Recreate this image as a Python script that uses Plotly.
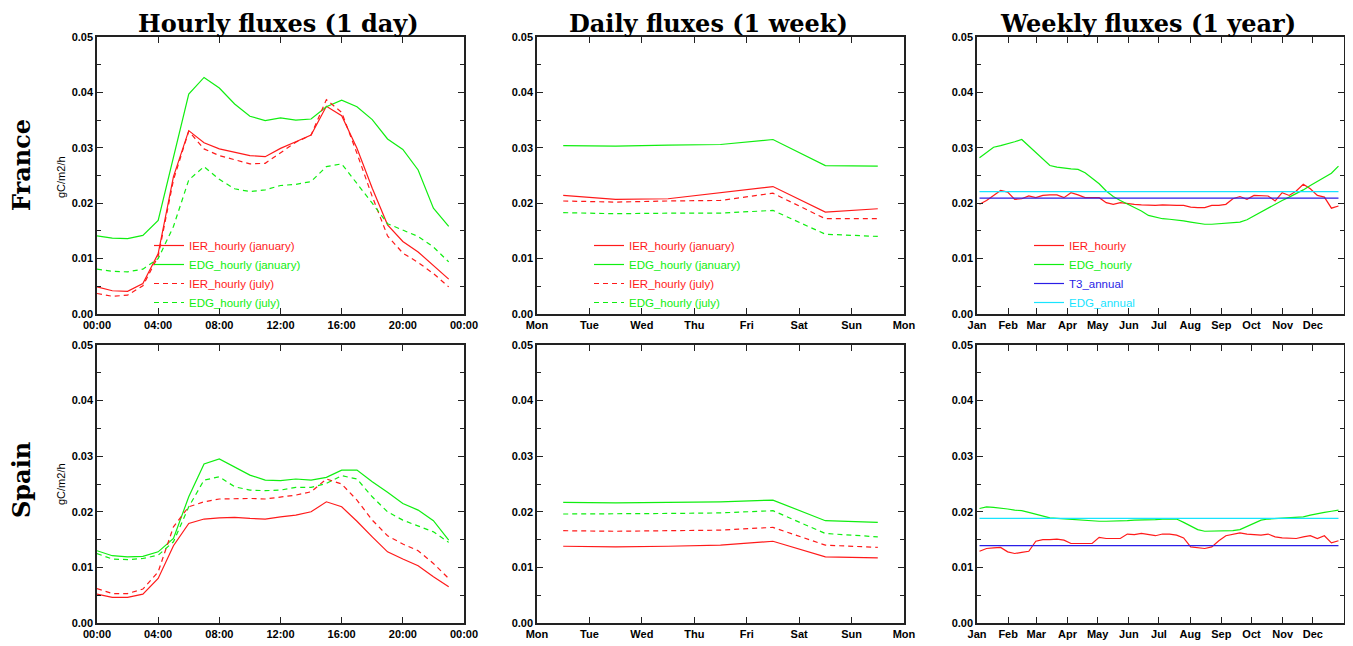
import plotly.graph_objects as go

# ---------------- data ----------------
hours = list(range(24))
hour_ticks = [0, 4, 8, 12, 16, 20, 24]
hour_labels = ["00:00", "04:00", "08:00", "12:00", "16:00", "20:00", "00:00"]

days = ["Mon", "Tue", "Wed", "Thu", "Fri", "Sat", "Sun"]
day_labels = ["Mon", "Tue", "Wed", "Thu", "Fri", "Sat", "Sun", "Mon"]

months = ["Jan", "Feb", "Mar", "Apr", "May", "Jun", "Jul", "Aug", "Sep", "Oct", "Nov", "Dec"]
month_start_day = [0, 31, 59, 90, 120, 151, 181, 212, 243, 273, 304, 334]
weeks = list(range(52))

y_ticks = [0, 0.01, 0.02, 0.03, 0.04, 0.05]
y_labels = ["0.00", "0.01", "0.02", "0.03", "0.04", "0.05"]

# France hourly
fr_h_ier_jan = [0.0049, 0.0042, 0.0041, 0.0055, 0.0109, 0.0248, 0.0331, 0.0309, 0.0298, 0.0292, 0.0286, 0.0284,
                0.0299, 0.0311, 0.0323, 0.0375, 0.0358, 0.0299, 0.0227, 0.0161, 0.0131, 0.0112, 0.0088, 0.0063]
fr_h_edg_jan = [0.0141, 0.0137, 0.0136, 0.0142, 0.0169, 0.0283, 0.0397, 0.0427, 0.0408, 0.0379, 0.0357, 0.0349,
                0.0354, 0.0350, 0.0352, 0.0374, 0.0386, 0.0374, 0.0351, 0.0316, 0.0297, 0.0260, 0.0191, 0.0158]
fr_h_ier_jul = [0.0037, 0.0032, 0.0034, 0.0051, 0.0104, 0.0242, 0.0330, 0.0298, 0.0286, 0.0279, 0.0271, 0.0272,
                0.0291, 0.0310, 0.0323, 0.0387, 0.0364, 0.0290, 0.0212, 0.0141, 0.0110, 0.0093, 0.0073, 0.0049]
fr_h_edg_jul = [0.0081, 0.0077, 0.0076, 0.0081, 0.0100, 0.0158, 0.0242, 0.0266, 0.0243, 0.0226, 0.0221, 0.0224,
                0.0232, 0.0234, 0.0239, 0.0266, 0.0271, 0.0236, 0.0200, 0.0163, 0.0152, 0.0140, 0.0121, 0.0094]

# Spain hourly
es_h_ier_jan = [0.0052, 0.0046, 0.0046, 0.0052, 0.0080, 0.0139, 0.0179, 0.0187, 0.0189, 0.0190, 0.0188, 0.0187,
                0.0191, 0.0194, 0.0200, 0.0218, 0.0209, 0.0183, 0.0155, 0.0128, 0.0115, 0.0103, 0.0083, 0.0065]
es_h_edg_jan = [0.0130, 0.0121, 0.0119, 0.0120, 0.0128, 0.0152, 0.0227, 0.0286, 0.0295, 0.0280, 0.0266, 0.0257,
                0.0256, 0.0259, 0.0257, 0.0262, 0.0275, 0.0275, 0.0254, 0.0235, 0.0215, 0.0203, 0.0184, 0.0149]
es_h_ier_jul = [0.0062, 0.0053, 0.0053, 0.0061, 0.0092, 0.0173, 0.0209, 0.0218, 0.0223, 0.0224, 0.0224, 0.0223,
                0.0227, 0.0230, 0.0236, 0.0259, 0.0250, 0.0221, 0.0185, 0.0157, 0.0142, 0.0130, 0.0107, 0.0080]
es_h_edg_jul = [0.0125, 0.0115, 0.0114, 0.0116, 0.0122, 0.0146, 0.0209, 0.0257, 0.0263, 0.0245, 0.0239, 0.0238,
                0.0239, 0.0244, 0.0244, 0.0251, 0.0265, 0.0259, 0.0227, 0.0200, 0.0185, 0.0175, 0.0164, 0.0145]

# France daily
fr_d_ier_jan = [0.0214, 0.0207, 0.0208, 0.0219, 0.0230, 0.0184, 0.0190]
fr_d_edg_jan = [0.0304, 0.0303, 0.0305, 0.0306, 0.0315, 0.0268, 0.0267]
fr_d_ier_jul = [0.0204, 0.0202, 0.0204, 0.0205, 0.0218, 0.0172, 0.0172]
fr_d_edg_jul = [0.0183, 0.0181, 0.0182, 0.0182, 0.0187, 0.0144, 0.0140]

# Spain daily
es_d_ier_jan = [0.0138, 0.0137, 0.0138, 0.0140, 0.0147, 0.0119, 0.0117]
es_d_edg_jan = [0.0217, 0.0216, 0.0217, 0.0218, 0.0221, 0.0184, 0.0181]
es_d_ier_jul = [0.0166, 0.0165, 0.0166, 0.0167, 0.0172, 0.0140, 0.0136]
es_d_edg_jul = [0.0196, 0.0196, 0.0197, 0.0198, 0.0202, 0.0161, 0.0155]

# France weekly
fr_w_ier = [0.0198, 0.0205, 0.0214, 0.0223, 0.0220, 0.0207, 0.0208, 0.0213, 0.0210, 0.0214, 0.0215, 0.0215, 0.0210,
            0.0219, 0.0215, 0.0210, 0.0210, 0.0210, 0.0201, 0.0198, 0.0201, 0.0199, 0.0198, 0.0197, 0.0196, 0.0196,
            0.0197, 0.0196, 0.0196, 0.0196, 0.0193, 0.0192, 0.0192, 0.0196, 0.0196, 0.0198, 0.0208, 0.0212, 0.0207,
            0.0214, 0.0213, 0.0213, 0.0204, 0.0219, 0.0214, 0.0222, 0.0234, 0.0226, 0.0214, 0.0211, 0.0191, 0.0195]
fr_w_edg = [0.0282, 0.0292, 0.0301, 0.0304, 0.0307, 0.0311, 0.0315, 0.0303, 0.0291, 0.0279, 0.0268, 0.0265, 0.0263,
            0.0262, 0.0261, 0.0255, 0.0245, 0.0235, 0.0222, 0.0212, 0.0205, 0.0199, 0.0193, 0.0186, 0.0178, 0.0175,
            0.0172, 0.0171, 0.0170, 0.0168, 0.0166, 0.0164, 0.0162, 0.0162, 0.0163, 0.0164, 0.0165, 0.0166, 0.0170,
            0.0177, 0.0185, 0.0192, 0.0199, 0.0205, 0.0211, 0.0217, 0.0224, 0.0232, 0.0239, 0.0246, 0.0254, 0.0267]
fr_t3_annual = 0.0209
fr_edg_annual = 0.0221

# Spain weekly
es_w_ier = [0.0129, 0.0134, 0.0135, 0.0136, 0.0128, 0.0125, 0.0127, 0.0129, 0.0147, 0.0150, 0.0150, 0.0151, 0.0149,
            0.0143, 0.0143, 0.0143, 0.0143, 0.0154, 0.0152, 0.0152, 0.0152, 0.0160, 0.0159, 0.0161, 0.0159, 0.0157,
            0.0160, 0.0160, 0.0158, 0.0153, 0.0137, 0.0135, 0.0134, 0.0137, 0.0148, 0.0157, 0.0160, 0.0162, 0.0160,
            0.0159, 0.0158, 0.0160, 0.0155, 0.0153, 0.0152, 0.0152, 0.0155, 0.0157, 0.0152, 0.0157, 0.0144, 0.0148]
es_w_edg = [0.0206, 0.0209, 0.0208, 0.0207, 0.0205, 0.0203, 0.0202, 0.0199, 0.0196, 0.0192, 0.0189, 0.0188, 0.0187,
            0.0186, 0.0185, 0.0184, 0.0184, 0.0183, 0.0183, 0.0183, 0.0184, 0.0184, 0.0185, 0.0185, 0.0186, 0.0186,
            0.0187, 0.0187, 0.0187, 0.0181, 0.0174, 0.0168, 0.0165, 0.0165, 0.0165, 0.0165, 0.0166, 0.0168, 0.0174,
            0.0180, 0.0185, 0.0187, 0.0188, 0.0188, 0.0189, 0.0190, 0.0191, 0.0194, 0.0197, 0.0199, 0.0201, 0.0203]
es_t3_annual = 0.0139
es_edg_annual = 0.0188

# ---------------- styling ----------------
OFF = 8                 # page body margin in the browser
W, H = 1353 - OFF, 646 - OFF
RED = "#ff1a1a"
GREEN = "#10ee10"
BLUE = "#2a1ee6"
CYAN = "#18e4ff"
DASH = "5px,4px"
LW = 1.2

def px_x(p):
    return (p - OFF) / W

def px_y(p):
    return 1 - (p - OFF) / H

col_dom = [[px_x(97), px_x(464)], [px_x(537), px_x(904)], [px_x(977), px_x(1344)]]
row_dom = [[px_y(314), px_y(37)], [px_y(623), px_y(345)]]

day_x = [i + 0.5 for i in range(len(days))]
week_x = [7 * w + 2.5 for w in weeks]

fig = go.Figure()

def cspan(txt, col):
    return '<span style="color:%s">%s</span>' % (col, txt)

def add(x, y, color, dash, name, axis_idx, legend, show):
    xa = "x" if axis_idx == 1 else "x%d" % axis_idx
    ya = "y" if axis_idx == 1 else "y%d" % axis_idx
    fig.add_trace(go.Scatter(
        x=x, y=y, mode="lines", name=cspan(name, color),
        line=dict(color=color, width=LW, dash=dash),
        xaxis=xa, yaxis=ya, legend=legend, showlegend=show,
        hoverinfo="skip"))

# row 1 (France)
add(hours, fr_h_ier_jan, RED, "solid", "IER_hourly (january)", 1, "legend", True)
add(hours, fr_h_edg_jan, GREEN, "solid", "EDG_hourly (january)", 1, "legend", True)
add(hours, fr_h_ier_jul, RED, DASH, "IER_hourly (july)", 1, "legend", True)
add(hours, fr_h_edg_jul, GREEN, DASH, "EDG_hourly (july)", 1, "legend", True)

add(day_x, fr_d_ier_jan, RED, "solid", "IER_hourly (january)", 2, "legend2", True)
add(day_x, fr_d_edg_jan, GREEN, "solid", "EDG_hourly (january)", 2, "legend2", True)
add(day_x, fr_d_ier_jul, RED, DASH, "IER_hourly (july)", 2, "legend2", True)
add(day_x, fr_d_edg_jul, GREEN, DASH, "EDG_hourly (july)", 2, "legend2", True)

add(week_x, fr_w_ier, RED, "solid", "IER_hourly", 3, "legend3", True)
add(week_x, fr_w_edg, GREEN, "solid", "EDG_hourly", 3, "legend3", True)
add(week_x, [fr_t3_annual] * len(weeks), BLUE, "solid", "T3_annual", 3, "legend3", True)
add(week_x, [fr_edg_annual] * len(weeks), CYAN, "solid", "EDG_annual", 3, "legend3", True)

# row 2 (Spain)
add(hours, es_h_ier_jan, RED, "solid", "IER_hourly (january)", 4, "legend", False)
add(hours, es_h_edg_jan, GREEN, "solid", "EDG_hourly (january)", 4, "legend", False)
add(hours, es_h_ier_jul, RED, DASH, "IER_hourly (july)", 4, "legend", False)
add(hours, es_h_edg_jul, GREEN, DASH, "EDG_hourly (july)", 4, "legend", False)

add(day_x, es_d_ier_jan, RED, "solid", "IER_hourly (january)", 5, "legend", False)
add(day_x, es_d_edg_jan, GREEN, "solid", "EDG_hourly (january)", 5, "legend", False)
add(day_x, es_d_ier_jul, RED, DASH, "IER_hourly (july)", 5, "legend", False)
add(day_x, es_d_edg_jul, GREEN, DASH, "EDG_hourly (july)", 5, "legend", False)

add(week_x, es_w_ier, RED, "solid", "IER_hourly", 6, "legend", False)
add(week_x, es_w_edg, GREEN, "solid", "EDG_hourly", 6, "legend", False)
add(week_x, [es_t3_annual] * len(weeks), BLUE, "solid", "T3_annual", 6, "legend", False)
add(week_x, [es_edg_annual] * len(weeks), CYAN, "solid", "EDG_annual", 6, "legend", False)

def bold(labels):
    return ["<b>%s</b>" % t for t in labels]

tickfont = dict(family="Liberation Sans", size=11, color="black")
axis_common = dict(showgrid=False, zeroline=False, showline=True, linecolor="#222222", linewidth=1.5,
                   mirror="ticks", ticks="inside", ticklen=6, tickcolor="#222222", tickwidth=1.2,
                   tickfont=tickfont, fixedrange=True, automargin=False)

layout = dict(width=W, height=H, margin=dict(l=0, r=0, t=0, b=0, pad=0, autoexpand=False),
              paper_bgcolor="white", plot_bgcolor="white", showlegend=True)

for r in range(2):
    for c in range(3):
        idx = r * 3 + c + 1
        xk = "xaxis" if idx == 1 else "xaxis%d" % idx
        yk = "yaxis" if idx == 1 else "yaxis%d" % idx
        ax_y = "y" if idx == 1 else "y%d" % idx
        ax_x = "x" if idx == 1 else "x%d" % idx
        if c == 0:
            xcfg = dict(range=[0, 24], tickvals=hour_ticks, ticktext=bold(hour_labels))
        elif c == 1:
            xcfg = dict(range=[0, 7], tickvals=list(range(8)), ticktext=bold(day_labels))
        else:
            xcfg = dict(range=[0, 365], tickvals=month_start_day, ticktext=bold(months))
        layout[xk] = dict(domain=col_dom[c], anchor=ax_y, **xcfg, **axis_common)
        layout[yk] = dict(domain=row_dom[r], anchor=ax_x, range=[0, 0.05],
                          tickvals=y_ticks, ticktext=bold(y_labels), ticklabelstandoff=0,
                          minor=dict(tickvals=[0.005, 0.015, 0.025, 0.035, 0.045], ticks="inside",
                                     ticklen=4, tickcolor="#222222", tickwidth=1.2),
                          **axis_common)

legfont = dict(family="Liberation Sans", size=11.5, color="black")
leg_common = dict(xanchor="left", yanchor="top", bgcolor="rgba(0,0,0,0)", borderwidth=0,
                  font=legfont, tracegroupgap=0)
layout["legend"] = dict(x=px_x(149), y=px_y(231), **leg_common)
layout["legend2"] = dict(x=px_x(589), y=px_y(231), **leg_common)
layout["legend3"] = dict(x=px_x(1029), y=px_y(231), **leg_common)

fig.update_layout(**layout)

titlefont = dict(family="DejaVu Serif", size=24, color="black")
titles = [("Hourly fluxes (1 day)", 278), ("Daily fluxes (1 week)", 708), ("Weekly fluxes (1 year)", 1148)]
for txt, cx in titles:
    fig.add_annotation(text="<b>%s</b>" % txt, x=px_x(cx), y=px_y(8), xref="paper", yref="paper",
                       showarrow=False, font=titlefont, xanchor="center", yanchor="top", borderpad=0)

for txt, cy in [("France", 165), ("Spain", 480)]:
    fig.add_annotation(text="<b>%s</b>" % txt, x=px_x(21), y=px_y(cy), xref="paper", yref="paper",
                       showarrow=False, font=titlefont, textangle=-90, xanchor="center", yanchor="middle")

for cy in [177, 484]:
    fig.add_annotation(text="gC/m2/h", x=px_x(61), y=px_y(cy), xref="paper", yref="paper",
                       showarrow=False, font=dict(family="Liberation Sans", size=11, color="black"),
                       textangle=-90, xanchor="center", yanchor="middle")

fig.write_html("out.html")
